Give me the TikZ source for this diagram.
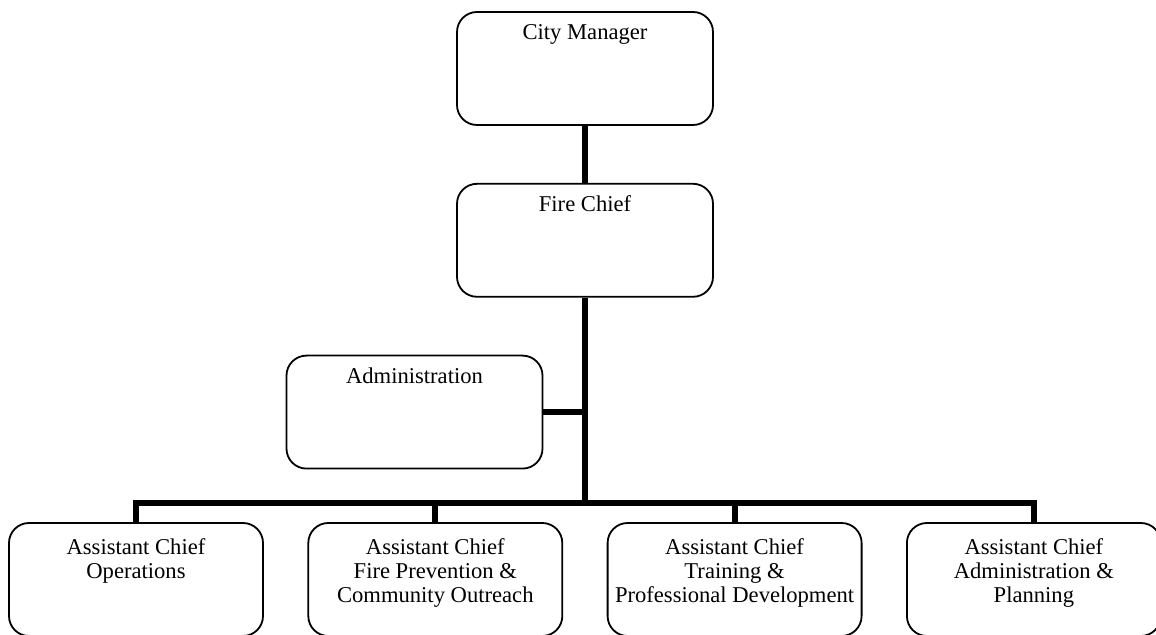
\documentclass[tikz,border=0pt]{standalone}
\usepackage{fontspec}
\setmainfont{Liberation Serif}
\usetikzlibrary{positioning,calc}

\begin{document}
\begin{tikzpicture}[
  office/.style={rectangle, draw=black, line width=0.9pt, rounded corners=10pt,
                 minimum width=128pt, minimum height=56.5pt, inner sep=0pt},
  heading/.style={anchor=north, align=center, inner sep=0pt, label distance=-6.3pt,
                  font=\fontsize{11.3pt}{12pt}\selectfont},
  link/.style={line width=3pt},
]

\useasboundingbox (0,0) rectangle (578pt,-317.5pt);

% Top of the chain
\node[office, label={[heading]north:City Manager}] (cm) at (292.5pt,-34.25pt) {};
\node[office, below=28.5pt of cm, label={[heading]north:Fire Chief}] (fc) {};
\node[office, below=28.5pt of fc, xshift=-85.25pt,
      label={[heading]north:Administration}] (adm) {};

% Assistant chiefs
\node[office, minimum width=127pt,
      label={[heading, label distance=-8pt]north:Assistant Chief\\Operations}]
      (ac1) at (68pt,-289.75pt) {};
\node[office, minimum width=127pt, right=21.75pt of ac1,
      label={[heading, label distance=-8pt]north:Assistant Chief\\Fire Prevention \&\\Community Outreach}]
      (ac2) {};
\node[office, minimum width=127pt, right=21.75pt of ac2,
      label={[heading, label distance=-8pt]north:Assistant Chief\\Training \&\\Professional Development}]
      (ac3) {};
\node[office, minimum width=127pt, right=21.75pt of ac3,
      label={[heading, label distance=-8pt]north:Assistant Chief\\Administration \&\\Planning}]
      (ac4) {};

% Trunk and bus
\coordinate (hub) at ($(fc.south)+(0,-102.5pt)$);
\draw[link] (cm.south) -- (fc.north);
\draw[link] (fc.south) -- (hub);
\draw[link] (adm.east) -- (adm.east -| hub);
\draw[link] (ac1.north) |- (ac4.north |- hub) -- (ac4.north);
\draw[link] (ac2.north) -- (ac2.north |- hub);
\draw[link] (ac3.north) -- (ac3.north |- hub);

\end{tikzpicture}
\end{document}
